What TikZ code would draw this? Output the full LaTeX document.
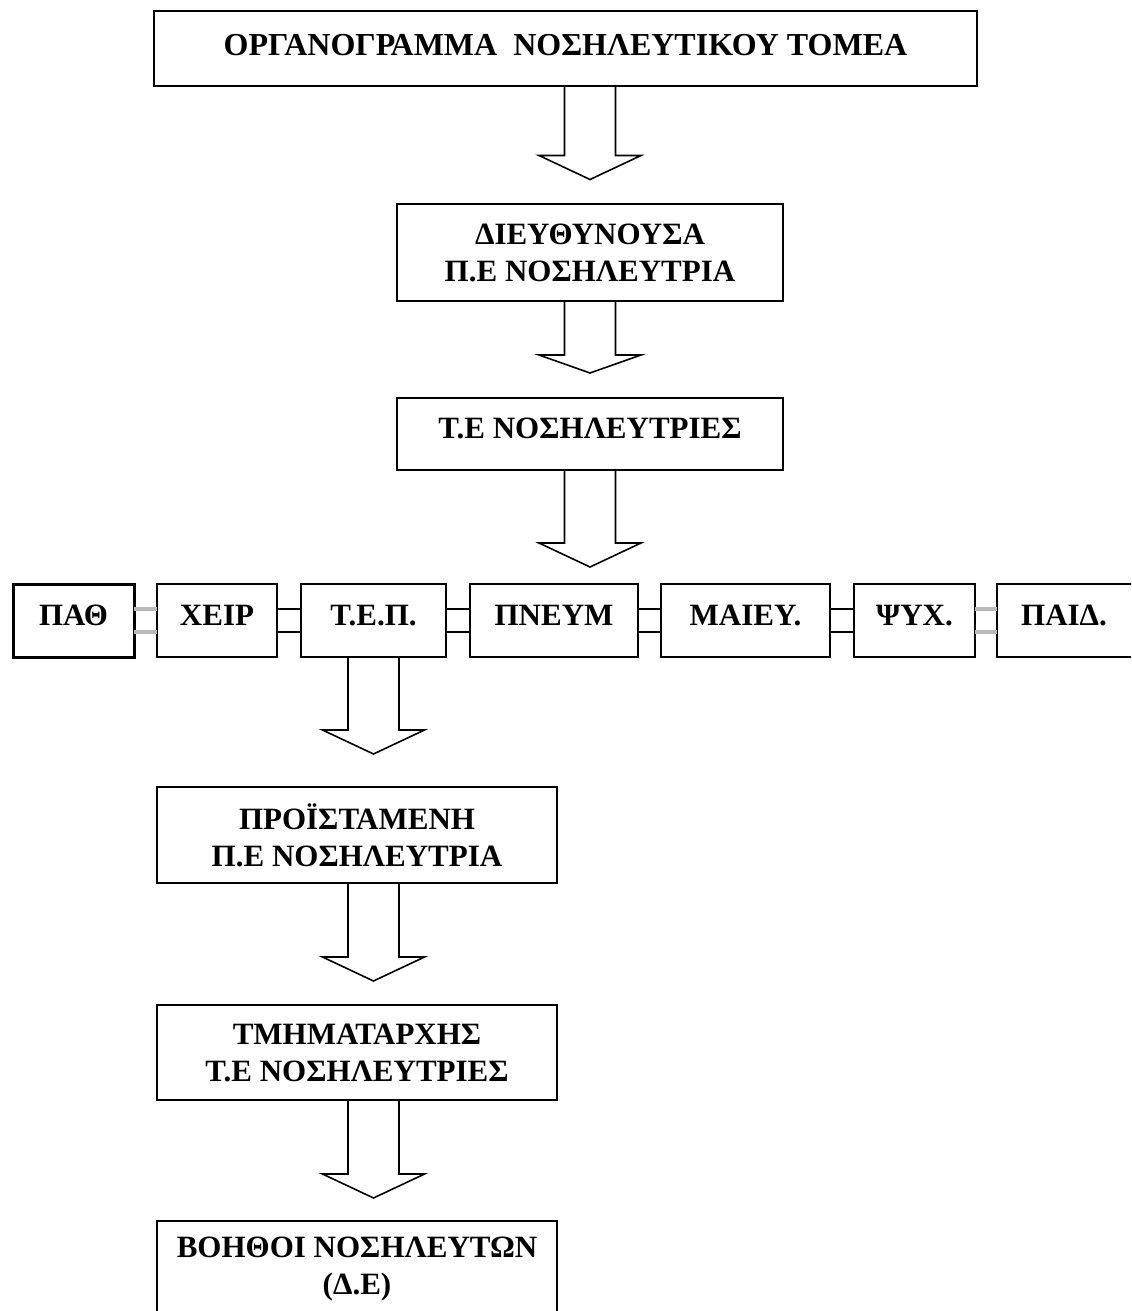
\documentclass[tikz,border=0pt]{standalone}
\usepackage{fontspec}
\setmainfont{Liberation Serif}
\usetikzlibrary{positioning}

% hollow block arrow pointing down, #1 = head length, #2 = start point, #3 = length (px)
\newcommand{\hollowarrow}[3][24]{%
  \draw[blockarrow] (#2) ++(-25.5,0) -- ++(0,{#3-#1}) -- ++(-25.5,0)
    -- ++(51,#1) -- ++(51,-#1) -- ++(-25.5,0) -- ++(0,{#1-#3});%
}

\begin{document}
\begin{tikzpicture}[
    x=0.5pt, y=-0.5pt,
    every node/.style={font=\bfseries\fontsize{15.5}{18.5}\selectfont, inner sep=0pt, outer sep=0pt},
    box/.style={draw, line width=1pt, align=center, minimum height=#1},
    box/.default=36pt,
    unit/.style={box=36.5pt, text height=10pt, text depth=5.3pt},
    blockarrow/.style={draw, line width=0.8pt, line join=miter},
    link/.style={line width=1pt},
    graylink/.style={line width=1.6pt, draw=gray!55}
]
\useasboundingbox (0,0) rectangle (1131,1311);
\clip (0,0) rectangle (1131,1311);

% main column
\node[box=37.5pt, minimum width=411.5pt, text height=11pt, text depth=4pt,
      font=\bfseries\fontsize{16}{19}\selectfont] (title) at (565.5,49)
      {ΟΡΓΑΝΟΓΡΑΜΜΑ \ ΝΟΣΗΛΕΥΤΙΚΟΥ ΤΟΜΕΑ};
\node[box=48.5pt, minimum width=193pt] (dir) at (590,252.5)
      {ΔΙΕΥΘΥΝΟΥΣΑ\\Π.Ε ΝΟΣΗΛΕΥΤΡΙΑ};
\node[box=36pt, minimum width=193pt, text height=10pt, text depth=5.3pt] (te) at (590,434)
      {Τ.Ε ΝΟΣΗΛΕΥΤΡΙΕΣ};

% departments
\node[unit, minimum width=60.5pt, line width=1.5pt] (pat) at (73.5,620.5) {ΠΑΘ};
\node[unit, minimum width=60pt, right=11.5pt of pat] (xeir) {ΧΕΙΡ};
\node[unit, minimum width=72.5pt, right=12pt of xeir] (tep) {Τ.Ε.Π.};
\node[unit, minimum width=84pt, right=12pt of tep] (pneym) {ΠΝΕΥΜ};
\node[unit, minimum width=84.5pt, right=11.5pt of pneym] (maiey) {ΜΑΙΕΥ.};
\node[unit, minimum width=60.5pt, right=12pt of maiey] (psyx) {ΨΥΧ.};
\node[unit, minimum width=75pt, right=11pt of psyx, anchor=west] (paid) {\hspace*{-8pt}ΠΑΙΔ.};

% lower column
\node[box=48pt, minimum width=200pt] (proist) at (357,835)
      {ΠΡΟΪΣΤΑΜΕΝΗ\\Π.Ε ΝΟΣΗΛΕΥΤΡΙΑ};
\node[box=47.5pt, minimum width=200pt] (tmim) at (357,1052.5)
      {ΤΜΗΜΑΤΑΡΧΗΣ\\Τ.Ε ΝΟΣΗΛΕΥΤΡΙΕΣ};
\node[box=48pt, minimum width=200pt] (voith) at (357,1269)
      {ΒΟΗΘΟΙ ΝΟΣΗΛΕΥΤΩΝ\\(Δ.Ε)};

% arrows
\hollowarrow{title.south -| dir.south}{93}
\hollowarrow[18]{dir.south}{72}
\hollowarrow{te.south}{97}
\hollowarrow{tep.south}{97}
\hollowarrow{proist.south -| tep.south}{98}
\hollowarrow{tmim.south -| tep.south}{98}

% links between departments
\foreach \a/\b in {xeir/tep, tep/pneym, pneym/maiey, maiey/psyx} {
  \draw[link] ([yshift=5.75pt]\a.east) -- ([yshift=5.75pt]\b.west);
  \draw[link] ([yshift=-5.75pt]\a.east) -- ([yshift=-5.75pt]\b.west);
}
\foreach \a/\b in {pat/xeir, psyx/paid} {
  \draw[graylink] ([yshift=5.75pt]\a.east) -- ([yshift=5.75pt]\b.west);
  \draw[graylink] ([yshift=-5.75pt]\a.east) -- ([yshift=-5.75pt]\b.west);
}

\end{tikzpicture}
\end{document}
